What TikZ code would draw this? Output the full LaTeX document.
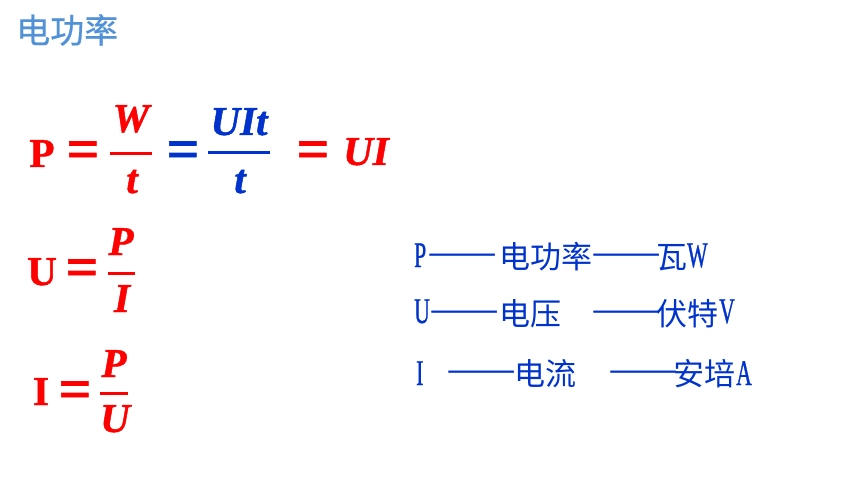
\documentclass[tikz,border=0pt]{standalone}
\usepackage{fontspec}
\setmainfont{Liberation Serif}
\newfontfamily\cjk{Noto Sans CJK SC}
\newfontfamily\cjkt[FakeBold=0.6]{Noto Sans CJK SC}
\newfontfamily\cjkd[RawFeature=+fwid, FakeBold=1.5]{Noto Sans CJK SC}
\newfontfamily\latc[FakeStretch=0.6, FakeBold=0.8]{Liberation Serif}
\newfontfamily\fmup[FakeBold=1.2]{Liberation Serif Bold}
\newfontfamily\fmit[FakeBold=1.2]{Liberation Serif Bold Italic}
\definecolor{fred}{RGB}{255,0,0}
\definecolor{fblue}{RGB}{0,51,204}
\definecolor{tblue}{RGB}{80,145,215}
\definecolor{lblue}{RGB}{0,51,204}
\tikzset{
  t/.style={inner sep=0pt, anchor=base},
  up/.style={t, font=\fontsize{41}{48}\selectfont\fmup},
  it/.style={t, font=\fontsize{41}{48}\selectfont\fmit},
  eq/.style={inner sep=0pt, anchor=center, font=\fontsize{58}{60}\selectfont\fmup},
  bar/.style={line width=3pt},
  cj/.style={inner sep=0pt, anchor=base west, text=lblue, font=\fontsize{31}{36}\selectfont\cjk},
  dsh/.style={inner sep=0pt, anchor=base west, text=lblue, font=\fontsize{35}{38}\selectfont\cjkd},
  lt/.style={inner sep=0pt, anchor=base west, text=lblue, font=\fontsize{36}{40}\selectfont\latc},
}
\begin{document}
\begin{tikzpicture}[x=1pt,y=-1pt]
\useasboundingbox (0,0) rectangle (860,484);
% title
\node[inner sep=0pt, anchor=base west, text=tblue, font=\fontsize{34}{38}\selectfont\cjkt] (title) at (16,43) {电功率};
% row 1: P = W/t = UIt/t = UI
\node[up, text=fred] (p1) at (42,167) {P};
\node[eq, text=fred] (e1) at (83,155) {=};
\node[it, text=fred] (w1) at (131,132) {W};
\coordinate (b1l) at (110,154); \coordinate (b1r) at (152,154);
\draw[bar, fred] (b1l) -- (b1r);
\node[it, text=fred] (t1) at (132,193) {t};
\node[eq, text=fblue] (e2) at (183,155) {=};
\node[it, text=fblue] (uit) at (239,135) {UIt};
\coordinate (b2l) at (208,153); \coordinate (b2r) at (270,153);
\draw[bar, fblue] (b2l) -- (b2r);
\node[it, text=fblue] (t2) at (240,193) {t};
\node[eq, text=fred] (e3) at (313,155) {=};
\node[it, text=fred] (ui) at (366,165) {UI};
% row 2: U = P/I
\node[up, text=fred] (u2) at (42,285) {U};
\node[eq, text=fred] (e4) at (82,273) {=};
\node[it, text=fred] (p2) at (121,255) {P};
\coordinate (b3l) at (108,273); \coordinate (b3r) at (135,273);
\draw[bar, fred] (b3l) -- (b3r);
\node[it, text=fred] (i2) at (122,312) {I};
% row 3: I = P/U
\node[up, text=fred] (i3) at (41,405) {I};
\node[eq, text=fred] (e5) at (75,395) {=};
\node[it, text=fred] (p3) at (114,377) {P};
\coordinate (b4l) at (100,393); \coordinate (b4r) at (128,393);
\draw[bar, fred] (b4l) -- (b4r);
\node[it, text=fred] (u3) at (115,432) {U};
% right list
\node[lt] (rp) at (414,267) {P};
\node[dsh] (rd1) at (427,268) {——};
\node[cj] (rn1) at (499,268) {电功率};
\node[dsh] (rd2) at (591,268) {——};
\node[cj] (ru1) at (656,268) {瓦};
\node[lt] (rw) at (687,267) {W};
\node[lt] (ru) at (414,323) {U};
\node[dsh] (rd3) at (429,325) {——};
\node[cj] (rn2) at (499,325) {电压};
\node[dsh] (rd4) at (591,325) {——};
\node[cj] (ru2) at (656,325) {伏特};
\node[lt] (rv) at (719,323) {V};
\node[lt] (ri) at (416,385) {I};
\node[dsh] (rd5) at (446,385) {——};
\node[cj] (rn3) at (514,385) {电流};
\node[dsh] (rd6) at (608,385) {——};
\node[cj] (ru3) at (673,385) {安培};
\node[lt] (ra) at (736,385) {A};
\end{tikzpicture}
\end{document}
